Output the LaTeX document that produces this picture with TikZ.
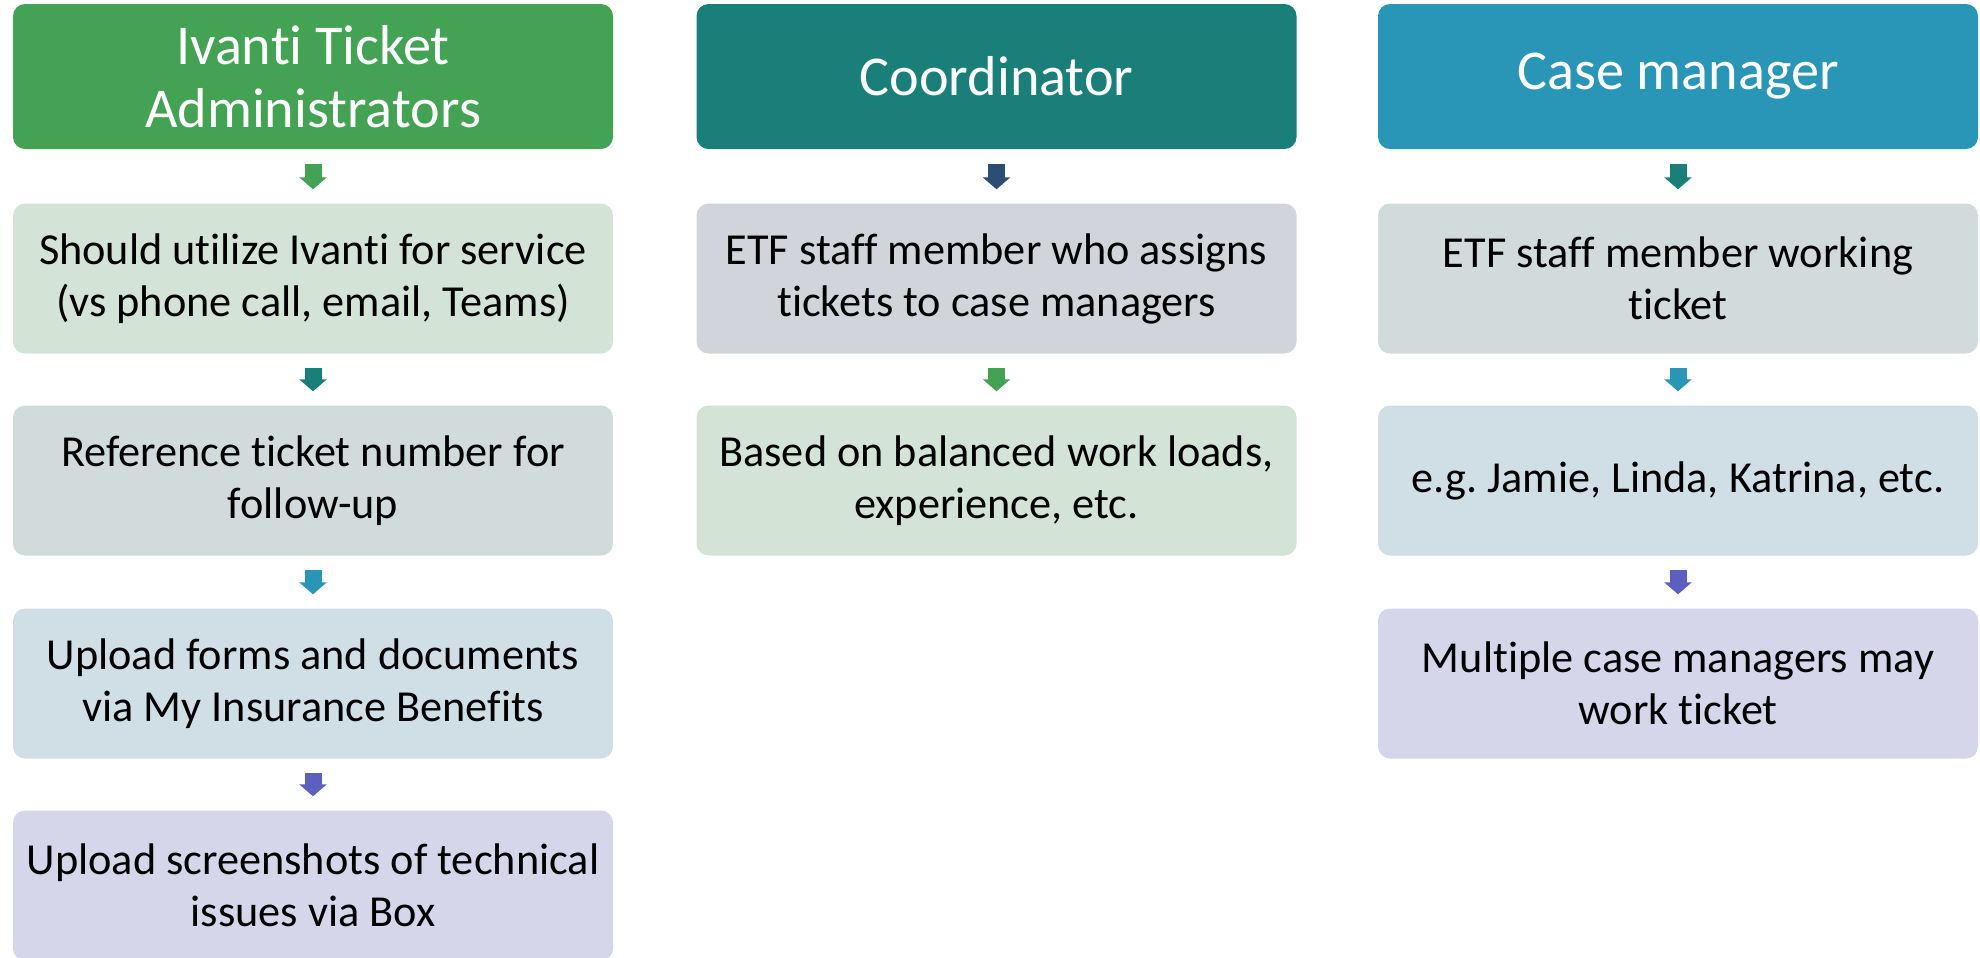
\documentclass[tikz,border=0pt]{standalone}
\usepackage{fontspec}
\setmainfont{Carlito}[Ligatures=NoCommon]
\usetikzlibrary{arrows.meta,positioning}
\definecolor{ivgreen}{RGB}{67,162,83}
\definecolor{coteal}{RGB}{27,127,121}
\definecolor{cmblue}{RGB}{41,150,184}
\definecolor{navyarrow}{RGB}{44,78,116}
\definecolor{purplearrow}{RGB}{91,96,190}
\definecolor{fillgreen}{RGB}{211,227,213}
\definecolor{fillteal}{RGB}{209,219,219}
\definecolor{fillblue}{RGB}{208,223,230}
\definecolor{fillpurple}{RGB}{213,214,234}
\definecolor{fillnavy}{RGB}{209,213,219}
\frenchspacing

\begin{document}
\begin{tikzpicture}[
        header/.style={rectangle, rounded corners=0.12cm, minimum width=6cm, minimum height=1.45cm, align=center, text=white, font=\fontsize{16}{17.9}\selectfont},
        item/.style={rectangle, rounded corners=0.12cm, minimum width=6cm, minimum height=1.5cm, align=center, text=black, font=\fontsize{12.6}{14.8}\selectfont},
        down/.style={draw=#1, line width=0.17cm, -{Triangle[width=0.27cm,length=0.12cm]}, shorten <=0.14cm, shorten >=0.135cm}
    ]
        \useasboundingbox (0,0) rectangle (19.8,-9.57);

        \node[header, fill=ivgreen] (h1) at (3.13,-0.765) {Ivanti Ticket\\Administrators};
        \node[header, fill=coteal] (h2) at (9.965,-0.765) {Coordinator};
        \node[header, fill=cmblue] (h3) at (16.78,-0.765) {Case manager};

        \node[item, fill=fillgreen] (a1) at (3.13,-2.785) {Should utilize Ivanti for service\\(vs phone call, email, Teams)};
        \node[item, fill=fillteal] (a2) at (3.13,-4.805) {Reference ticket number for\\follow-up};
        \node[item, fill=fillblue] (a3) at (3.13,-6.835) {Upload forms and documents\\via My Insurance Benefits};
        \node[item, fill=fillpurple] (a4) at (3.13,-8.855) {Upload screenshots of technical\\issues via Box};

        \node[item, fill=fillnavy] (b1) at (9.965,-2.785) {ETF staff member who assigns\\tickets to case managers};
        \node[item, fill=fillgreen] (b2) at (9.965,-4.805) {Based on balanced work loads,\\experience, etc.};

        \node[item, fill=fillteal] (c1) at (16.78,-2.785) {ETF staff member working\\ticket};
        \node[item, fill=fillblue] (c2) at (16.78,-4.805) {e.g. Jamie, Linda, Katrina, etc.};
        \node[item, fill=fillpurple] (c3) at (16.78,-6.835) {Multiple case managers may\\work ticket};

        \draw[down=ivgreen] (h1) -- (a1);
        \draw[down=coteal] (a1) -- (a2);
        \draw[down=cmblue] (a2) -- (a3);
        \draw[down=purplearrow] (a3) -- (a4);

        \draw[down=navyarrow] (h2) -- (b1);
        \draw[down=ivgreen] (b1) -- (b2);

        \draw[down=coteal] (h3) -- (c1);
        \draw[down=cmblue] (c1) -- (c2);
        \draw[down=purplearrow] (c2) -- (c3);
    \end{tikzpicture}
\end{document}
